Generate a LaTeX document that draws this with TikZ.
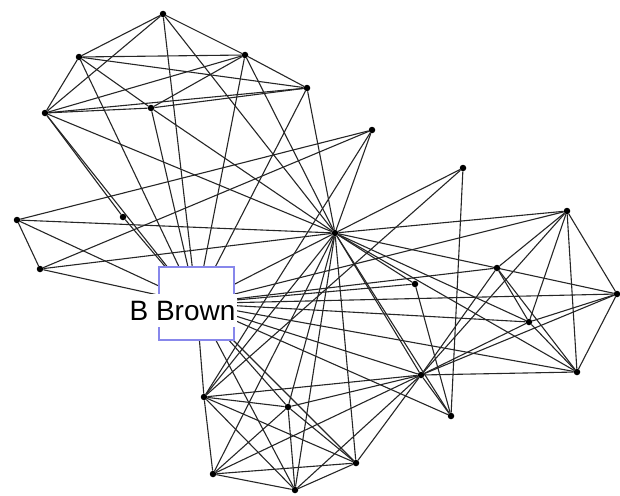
\documentclass[tikz,border=0pt]{standalone}
\usepackage{fontspec}
\setmainfont{Liberation Sans}
\pgfdeclarelayer{bg}
\pgfsetlayers{bg,main}
\definecolor{boxblue}{RGB}{135,135,235}
\tikzset{
  dot/.style={circle,fill=black,inner sep=0pt,minimum size=6.5pt},
  edge/.style={draw=black!85,line width=1.1pt},
  namebox/.style={draw=boxblue,line width=1.6pt,fill=white,minimum width=75pt,minimum height=73pt,inner sep=0pt},
  namelabel/.style={fill=white,inner xsep=1.5pt,inner ysep=7pt,font=\fontsize{28}{30}\selectfont}
}
\begin{document}
\begin{tikzpicture}[x=1pt,y=-1pt]
\useasboundingbox (0,0) rectangle (620,495);
% nodes
\node[dot] (T1) at (163,14) {};
\node[dot] (T2) at (79,57) {};
\node[dot] (T3) at (245,55) {};
\node[dot] (T4) at (307,88) {};
\node[dot] (T5) at (45,113) {};
\node[dot] (T6) at (151,108) {};
\node[dot] (T7) at (372,130) {};
\node[dot] (L1) at (17,220) {};
\node[dot] (L2) at (123,217) {};
\node[dot] (L3) at (40,269) {};
\node[dot] (H) at (335,233) {};
\node[dot] (R1) at (463,168) {};
\node[dot] (R2) at (567,211) {};
\node[dot] (R3) at (497,268) {};
\node[dot] (R4) at (415,284) {};
\node[dot] (R5) at (617,294) {};
\node[dot] (R6) at (529,322) {};
\node[dot] (R7) at (577,372) {};
\node[dot] (R8) at (421,375) {};
\node[dot] (R9) at (451,416) {};
\node[dot] (B1) at (204,397) {};
\node[dot] (B2) at (288,407) {};
\node[dot] (B3) at (356,463) {};
\node[dot] (B4) at (213,474) {};
\node[dot] (B5) at (295,490) {};
\node[namebox] (bx) at (196.5,303.5) {};
\node[namelabel,anchor=base] (lbl) at (182.5,320) {B Brown};
% edges
\begin{pgfonlayer}{bg}
\foreach \a/\b in {
  T1/T2,T1/T3,T1/T5,T1/H,T2/T3,T2/T4,T2/T5,T2/T6,T6/H,T3/T4,T3/T5,T3/T6,T3/H,
  T4/T5,T4/T6,T4/H,T5/T6,T5/L2,T5/H,
  T7/L1,T7/L3,T7/H,T7/B1,
  L1/L3,L1/H,L3/H,
  H/R1,H/R2,H/R5,H/R4,H/R6,H/R7,H/R8,H/R9,H/B1,H/B2,H/B3,H/B4,H/B5,
  R1/R9,R1/B1,
  R2/R5,R2/R6,R2/R7,R2/R8,R2/R3,R3/R6,R3/R7,R3/R8,
  R5/R6,R5/R7,R5/R8,R6/R7,R6/R8,R7/R8,R4/R9,R8/R9,
  B1/B2,B1/B3,B1/B4,B1/B5,B2/B3,B2/B4,B2/B5,B3/B4,B3/B5,B4/B5,
  B1/R8,B2/R8,B3/R8,B4/R8,B5/R8}
  \draw[edge] (\a) -- (\b);
\foreach \a in {T1,T2,T3,T4,T5,T6,L1,L2,L3,H,R2,R3,R4,R5,R6,R7,R8,R9,B1,B2,B3,B5}
  \draw[edge] (\a) -- (bx.center);
\end{pgfonlayer}
\end{tikzpicture}
\end{document}
